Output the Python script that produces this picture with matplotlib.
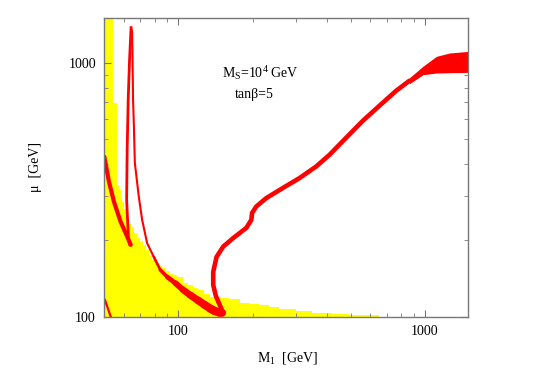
import matplotlib
matplotlib.use("Agg")
import matplotlib.pyplot as plt
from matplotlib.ticker import FixedLocator, NullFormatter

plt.rcParams['font.family'] = ['Liberation Serif', 'DejaVu Serif']
plt.rcParams['mathtext.fontset'] = 'custom'
plt.rcParams['mathtext.rm'] = 'Liberation Serif'
plt.rcParams['mathtext.it'] = 'Liberation Serif:italic'

## excluded region (yellow), step edges in M1 and upper mu
yellow_m1 = [50, 54.4, 56.1, 57.2, 58.2, 59.1, 60, 61, 62, 63, 64, 66, 68, 70, 72,
             74, 76, 78, 80, 83, 86, 89, 92, 95, 99, 104, 109, 114, 120, 127, 134,
             147, 161, 177, 195, 213, 234, 256, 300, 348, 420, 491, 649]
yellow_mu = [1500, 697, 331, 318, 300, 282, 265, 252, 240, 232, 225, 214, 205, 198, 192,
             183, 175, 168, 163, 159, 155, 151, 148, 145.5, 143, 136, 133, 130, 127, 123, 120,
             119, 117, 113, 112, 111, 109, 107, 105, 103.4, 102.5, 101.6, 100]

## red bands
stub_m1 = [50.3, 53.1]
stub_mu = [116.4, 100]

left_m1 = [50.0, 52.2, 54.7, 58.2, 61.9, 64.0]
left_mu = [427, 341, 284, 237, 207, 192]

spike_up_m1 = [63.5, 62.7, 61.6, 61.9, 62.5, 63.3, 64.2]
spike_up_mu = [192, 200, 288.7, 454.7, 716, 1031, 1377]

spike_down_m1 = [64.2, 64.8, 65.1, 65.4, 65.9, 66.5, 69.0, 71.2, 74.6, 79.3, 84.4]
spike_down_mu = [1377, 1329, 1031, 716, 571, 404, 297.6, 240.8, 194.9, 172.5, 152.9]

# lower band, drawn in pieces that get thicker toward the bottom
bottom_m1 = [79.3, 84.4, 90.0, 97.0, 104.0, 111.4, 120.0, 128.0, 135.0, 140.5, 146.0, 150.0]
bottom_mu = [172.5, 152.9, 143.5, 135.8, 128.0, 121.8, 116.0, 111.2, 107.5, 105.3, 104.0, 103.6]
bottom_lw = [1.8, 2.6, 3.4, 4.2, 4.8, 5.2, 5.6, 5.8, 6.0, 6.0, 6.0]

rise_m1 = [150.0, 141.8, 138.3, 138.3, 142.7, 151.8, 166.5, 188.5, 197.5, 198.9,
           206.8, 227, 264.6, 309.6, 361.8, 410, 479, 560, 654, 765, 866]
rise_mu = [106.3, 120.7, 133.4, 150.1, 172, 188.9, 203.9, 223.9, 240.8, 256.6,
           271.8, 293.3, 321.2, 351.7, 390.8, 434.6, 507.4, 592, 678.5, 777.7, 851.5]

end_m1 = [866, 981, 1113, 1260, 1500]
end_mu_hi = [875, 969.6, 1062, 1095, 1111]
end_mu_lo = [828.5, 898.7, 912.9, 915.4, 918]

fig = plt.figure(figsize=(5.45, 3.82), dpi=100)
ax = fig.add_axes([0.1914, 0.1709, 0.6679, 0.7812])
ax.set_xscale('log')
ax.set_yscale('log')

red = '#ff0000'
ax.fill_between(yellow_m1, 100, yellow_mu, step='post', color='#ffff00', lw=0, zorder=1)

ax.plot(stub_m1, stub_mu, color=red, lw=1.6, zorder=2)
ax.plot(left_m1, left_mu, color=red, lw=3.0, zorder=2, solid_capstyle='round')
ax.plot(spike_up_m1, spike_up_mu, color=red, lw=2.0, zorder=2)
ax.plot(spike_down_m1, spike_down_mu, color=red, lw=1.5, zorder=2)
for i in range(len(bottom_lw)):
    ax.plot(bottom_m1[i:i + 2], bottom_mu[i:i + 2], color=red, lw=bottom_lw[i],
            zorder=2, solid_capstyle='round')
ax.plot(rise_m1, rise_mu, color=red, lw=3.3, zorder=2, solid_capstyle='round')
ax.fill_between(end_m1, end_mu_lo, end_mu_hi, color=red, lw=0, zorder=2)

ax.set_xlim(50, 1500)
ax.set_ylim(100, 1500)

ax.xaxis.set_major_locator(FixedLocator([100, 1000]))
ax.yaxis.set_major_locator(FixedLocator([100, 1000]))
ax.set_xticklabels(['100', '1000'])
ax.set_yticklabels(['100', '1000'])
ax.xaxis.set_minor_formatter(NullFormatter())
ax.yaxis.set_minor_formatter(NullFormatter())

for s in ax.spines.values():
    s.set_color('#777777')
    s.set_linewidth(1.0)
ax.tick_params(which='both', direction='in', top=True, right=True, color='#777777',
               labelsize=10, pad=6)
ax.tick_params(which='major', length=5)
ax.tick_params(which='minor', length=3)

ax.set_xlabel(r'$\mathrm{M_1}$  [GeV]', fontsize=10)
ax.set_ylabel('μ  [GeV]', fontsize=10)
ax.xaxis.set_label_coords(0.502, -0.112)
ax.yaxis.set_label_coords(-0.172, 0.502)

ax.text(0.3225, 0.80, r'$\mathrm{M_S}$=10$^4$ GeV', transform=ax.transAxes,
        fontsize=10, va='baseline')
ax.text(0.358, 0.733, 'tanβ=5', transform=ax.transAxes, fontsize=10, va='baseline')

fig.savefig('out.png', dpi=100)
